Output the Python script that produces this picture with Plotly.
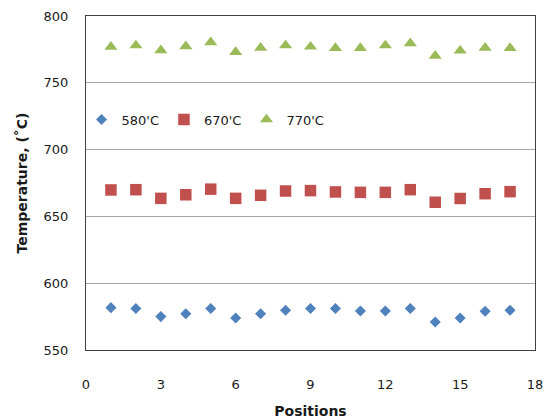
import plotly.graph_objects as go

# Positions along the sample
positions = list(range(1, 18))

# Measured temperatures (°C) at each position for the three furnace settings
temp_580 = [581.7, 581.0, 575.0, 577.2, 581.0, 574.0, 577.2, 579.7, 581.0,
            581.0, 579.2, 579.2, 581.0, 571.0, 574.0, 579.0, 579.7]
temp_670 = [669.8, 670.0, 663.5, 666.2, 670.4, 663.5, 665.8, 669.0, 669.3,
            668.3, 668.0, 668.0, 670.0, 660.6, 663.4, 667.0, 668.5]
temp_770 = [776.9, 778.0, 774.3, 777.3, 780.3, 773.0, 776.2, 778.0, 777.0,
            776.0, 776.0, 778.0, 779.6, 770.2, 774.0, 776.2, 776.0]

series_names = ["580'C", "670'C", "770'C"]

x_ticks = [0, 3, 6, 9, 12, 15, 18]
y_ticks = [550, 600, 650, 700, 750, 800]

FONT = "DejaVu Sans"
TEXT = "#1a1a1a"

fig = go.Figure()
fig.add_trace(go.Scatter(
    x=positions, y=temp_580, mode="markers", name=series_names[0],
    marker=dict(symbol="diamond", size=8.5, color="#4F81BD"),
))
fig.add_trace(go.Scatter(
    x=positions, y=temp_670, mode="markers", name=series_names[1],
    marker=dict(symbol="square", size=11.5, color="#C0504D"),
))
fig.add_trace(go.Scatter(
    x=positions, y=temp_770, mode="markers", name=series_names[2],
    marker=dict(symbol="triangle-up", size=11.5, color="#9BBB59"),
))

fig.update_layout(
    width=552, height=419,
    margin=dict(l=86, r=17, t=16, b=69),
    paper_bgcolor="white", plot_bgcolor="white",
    font=dict(family=FONT, size=13, color=TEXT),
    legend=dict(
        orientation="h", x=-0.01, y=0.69, xanchor="left", yanchor="middle",
        bgcolor="rgba(0,0,0,0)", font=dict(size=13, color=TEXT),
        itemwidth=30, tracegroupgap=0,
    ),
    xaxis=dict(
        range=[0, 18], tickvals=x_ticks, ticktext=[str(v) for v in x_ticks],
        showgrid=False, zeroline=False, automargin=False,
        showline=True, linecolor="#404040", linewidth=1.3, mirror=True,
        ticks="", ticklabelstandoff=22,
        tickfont=dict(family=FONT, size=13, color=TEXT),
        title=dict(text="<b>Positions</b>", font=dict(family=FONT, size=14, color=TEXT),
                   standoff=21),
    ),
    yaxis=dict(
        range=[550, 800], tickvals=y_ticks, ticktext=[str(v) for v in y_ticks],
        showgrid=True, gridcolor="#a6a6a6", gridwidth=1, zeroline=False,
        automargin=False,
        showline=True, linecolor="#404040", linewidth=1.3, mirror=True,
        ticks="", ticklabelstandoff=14,
        tickfont=dict(family=FONT, size=13, color=TEXT),
        title=dict(text="<b>Temperature, (˚C)</b>", font=dict(family=FONT, size=14, color=TEXT),
                   standoff=12),
    ),
)

fig.write_html("out.html")
